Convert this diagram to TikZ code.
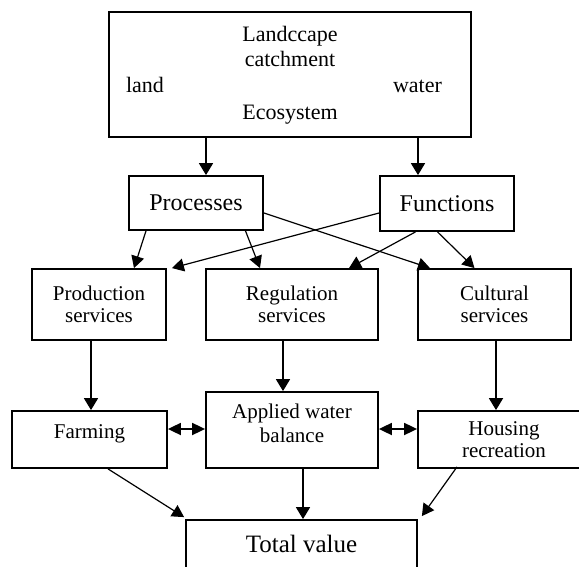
\documentclass[tikz,border=0pt]{standalone}
\usepackage{fontspec}
\setmainfont{Liberation Serif}
\usetikzlibrary{arrows.meta}
\begin{document}
\begin{tikzpicture}[x=1pt,y=-1pt,
  box/.style={draw, line width=1.8pt, inner sep=0pt, align=center,
    font=\fontsize{21}{22}\selectfont},
  bigbox/.style={box, font=\fontsize{24}{26}\selectfont},
  txt/.style={inner sep=0pt, anchor=base, align=center, font=\fontsize{21}{24}\selectfont},
  toptxt/.style={inner sep=0pt, anchor=base, font=\fontsize{22}{24}\selectfont},
  arr/.style={line width=1.8pt, -{Triangle[length=12pt,width=14pt]}},
  darr/.style={line width=1.2pt, -{Triangle[length=12pt,width=13pt]}},
  both/.style={line width=1.8pt, {Triangle[length=13pt,width=12pt]}-{Triangle[length=13pt,width=12pt]}}]
\useasboundingbox (0,0) rectangle (579,567);
\clip (0,0) rectangle (579,567);
\fill[white] (0,0) rectangle (579,567);

% top box
\node[box, minimum width=362pt, minimum height=125pt] (top) at (290,74.5) {};
\node[toptxt] (t1) at (290,42) {Landccape};
\node[toptxt] (t2) at (290,66.5) {catchment};
\node[toptxt] (t3) at (145,93) {land};
\node[toptxt] (t4) at (417.5,93) {water};
\node[toptxt] (t5) at (290,120) {Ecosystem};

% second level
\node[bigbox, minimum width=134pt, minimum height=54pt] (proc) at (196,203) {Processes};
\node[bigbox, minimum width=134pt, minimum height=55pt] (func) at (447,203.5) {Functions};

% services
\node[box, minimum width=134pt, minimum height=71pt] (prod) at (99,304.5) {Production\\services};
\node[box, minimum width=172pt, minimum height=71pt] (reg) at (292,304.5) {Regulation\\services};
\node[box, minimum width=153pt, minimum height=71pt] (cult) at (494.5,304.5) {Cultural\\services};

% uses
\node[box, minimum width=155pt, minimum height=57pt] (farm) at (89.5,439.5) {};
\node[txt] (farmt) at (89.5,438) {Farming};
\node[box, minimum width=172pt, minimum height=76pt] (appl) at (292,430) {};
\node[txt] (applt) at (292,442) {Applied water\\balance};
\node[box, minimum width=172pt, minimum height=57pt] (hous) at (504,439.5) {Housing\\recreation};

% total
\node[box, minimum width=231pt, minimum height=80pt] (total) at (301.5,560) {};
\node[inner sep=0pt, anchor=base, font=\fontsize{25}{27}\selectfont] (totalt) at (301.5,552) {Total value};

% arrows from top box
\draw[arr] ([xshift=-84pt]top.south) -- ([xshift=10pt]proc.north);
\draw[arr] ([xshift=128pt]top.south) -- ([xshift=-29pt]func.north);

% processes / functions to services
\draw[darr] ([xshift=-50pt]proc.south) -- ([xshift=35pt]prod.north);
\draw[darr] ([xshift=49.5pt]proc.south) -- ([xshift=-32pt]reg.north);
\draw[darr] ([yshift=-10pt]proc.east) -- ([xshift=-64.5pt]cult.north);
\draw[darr] ([yshift=-9.5pt]func.west) -- ([xshift=5pt]prod.north east);
\draw[darr] ([xshift=-31.5pt]func.south) -- ([xshift=57pt]reg.north);
\draw[darr] ([xshift=-9.5pt]func.south) -- ([xshift=-20pt]cult.north);

% services to uses
\draw[arr] ([xshift=-8pt]prod.south) -- ([xshift=1.5pt]farm.north);
\draw[arr] ([xshift=-9pt]reg.south) -- ([xshift=-9pt]appl.north);
\draw[arr] ([xshift=1.5pt]cult.south) -- ([xshift=-8pt]hous.north);

% double arrows
\draw[both] ([yshift=10.5pt]farm.east) -- ([yshift=1pt]appl.west);
\draw[both] ([yshift=1pt]appl.east) -- ([yshift=10.5pt]hous.west);

% to total
\draw[arr] ([xshift=11pt]appl.south) -- ([xshift=1.5pt]total.north);
\draw[darr] ([xshift=18.5pt]farm.south) -- ([xshift=-1pt,yshift=2pt]total.north west);
\draw[darr] ([xshift=-47pt,yshift=2pt]hous.south) -- ([xshift=4pt,yshift=3pt]total.north east);
\end{tikzpicture}
\end{document}
